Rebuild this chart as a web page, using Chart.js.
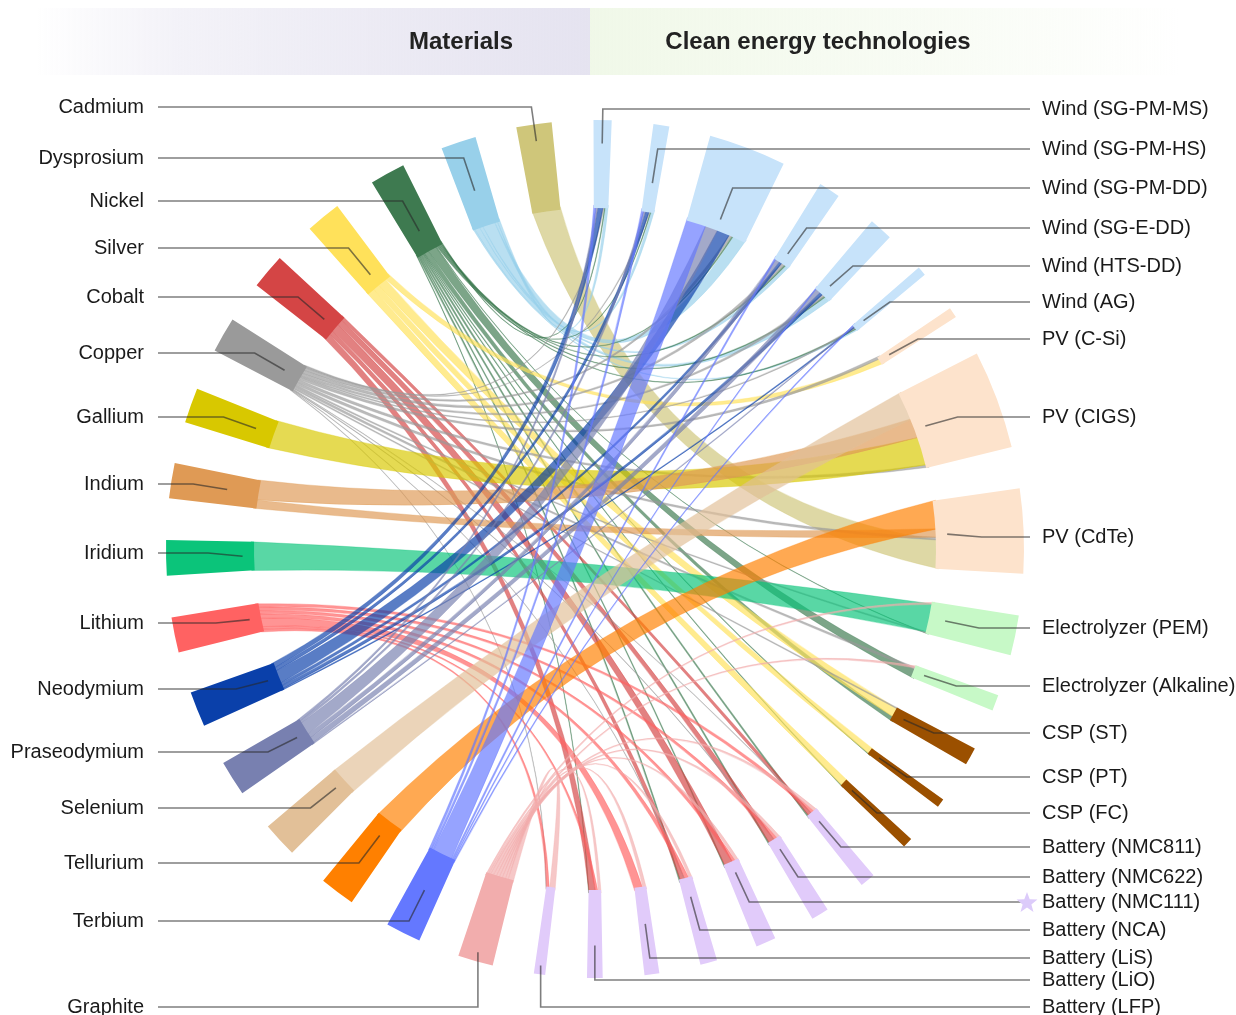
<!DOCTYPE html>
<html>
<head>
<meta charset="utf-8">
<script src="https://cdn.jsdelivr.net/npm/chart.js@4.4.1/dist/chart.umd.min.js"></script>
<style>
  html, body { margin: 0; padding: 0; background: #fff; }
  canvas { display: block; }
</style>
</head>
<body>
<canvas id="chord" width="1236" height="1015"></canvas>
<script>
// materials (left half) and technologies (right half)
const materials = ['Cadmium', 'Dysprosium', 'Nickel', 'Silver', 'Cobalt', 'Copper', 'Gallium', 'Indium',
  'Iridium', 'Lithium', 'Neodymium', 'Praseodymium', 'Selenium', 'Tellurium', 'Terbium', 'Graphite']
const technologies = ['Wind (SG-PM-MS)', 'Wind (SG-PM-HS)', 'Wind (SG-PM-DD)', 'Wind (SG-E-DD)', 'Wind (HTS-DD)',
  'Wind (AG)', 'PV (C-Si)', 'PV (CIGS)', 'PV (CdTe)', 'Electrolyzer (PEM)', 'Electrolyzer (Alkaline)',
  'CSP (ST)', 'CSP (PT)', 'CSP (FC)', 'Battery (NMC811)', 'Battery (NMC622)', 'Battery (NMC111)',
  'Battery (NCA)', 'Battery (LiS)', 'Battery (LiO)', 'Battery (LFP)']

// share of each material going to each technology (same order as technologies)
//                 MS   HS   DD   EDD  HTS  AG   CSi  CIGS CdTe PEM  Alk  ST   PT   FC   811  622  111  NCA  LiS  LiO  LFP
const cadmium     = [0,   0,   0,   0,   0,   0,   0,   0,   1,   0,   0,   0,   0,   0,   0,   0,   0,   0,   0,   0,   0]
const dysprosium  = [.10, .10, .45, .12, .18, .05, 0,   0,   0,   0,   0,   0,   0,   0,   0,   0,   0,   0,   0,   0,   0]
const nickel      = [.03, .03, .05, .05, .05, .04, 0,   0,   0,   .02, .30, .15, .03, .03, .06, .05, .04, .05, 0,   .02, 0]
const silver      = [0,   0,   0,   0,   0,   0,   .20, 0,   0,   0,   0,   .32, .22, .26, 0,   0,   0,   0,   0,   0,   0]
const cobalt      = [0,   0,   0,   0,   0,   0,   0,   0,   0,   0,   0,   0,   0,   0,   .12, .20, .30, .15, 0,   .23, 0]
const copper      = [.04, .04, .10, .12, .10, .05, .10, .10, .10, .05, .08, .04, 0,   0,   .02, .02, 0,   .02, 0,   0,   .02]
const gallium     = [0,   0,   0,   0,   0,   0,   0,   1,   0,   0,   0,   0,   0,   0,   0,   0,   0,   0,   0,   0,   0]
const indium      = [0,   0,   0,   0,   0,   0,   0,   .70, .30, 0,   0,   0,   0,   0,   0,   0,   0,   0,   0,   0,   0]
const iridium     = [0,   0,   0,   0,   0,   0,   0,   0,   0,   1,   0,   0,   0,   0,   0,   0,   0,   0,   0,   0,   0]
const lithium     = [0,   0,   0,   0,   0,   0,   0,   0,   0,   0,   0,   0,   0,   0,   .12, .12, .12, .15, .30, .09, .10]
const neodymium   = [.18, .12, .45, .10, .11, .04, 0,   0,   0,   0,   0,   0,   0,   0,   0,   0,   0,   0,   0,   0,   0]
const praseodymium= [.08, .08, .45, .16, .19, .04, 0,   0,   0,   0,   0,   0,   0,   0,   0,   0,   0,   0,   0,   0,   0]
const selenium    = [0,   0,   0,   0,   0,   0,   0,   1,   0,   0,   0,   0,   0,   0,   0,   0,   0,   0,   0,   0,   0]
const tellurium   = [0,   0,   0,   0,   0,   0,   0,   0,   1,   0,   0,   0,   0,   0,   0,   0,   0,   0,   0,   0,   0]
const terbium     = [.08, .08, .70, .06, .04, .04, 0,   0,   0,   0,   0,   0,   0,   0,   0,   0,   0,   0,   0,   0,   0]
const graphite    = [0,   0,   0,   0,   0,   0,   0,   0,   0,   .07, .07, 0,   0,   0,   .11, .11, .11, .11, .12, .10, .20]

const shares = [cadmium, dysprosium, nickel, silver, cobalt, copper, gallium, indium, iridium,
  lithium, neodymium, praseodymium, selenium, tellurium, terbium, graphite]

const materialColors = ['#cfc67a', '#98d0ea', '#3e7a50', '#ffe15a', '#d44545', '#9a9a9a', '#d8c800', '#df9a55',
  '#0bc47a', '#ff6262', '#0a40aa', '#7880b0', '#e2c098', '#ff8000', '#6478ff', '#f2adad']
const techColors = ['#c7e3fa', '#c7e3fa', '#c7e3fa', '#c7e3fa', '#c7e3fa', '#c7e3fa', '#fde3cc', '#fde3cc', '#fde3cc',
  '#c7f9c7', '#c7f9c7', '#9b5000', '#9b5000', '#9b5000', '#e1cbfa', '#e1cbfa', '#e1cbfa', '#e1cbfa', '#e1cbfa',
  '#e1cbfa', '#e1cbfa']

// label text heights (layout only)
const leftLabelY = [107, 158, 201, 248, 297, 353, 417, 484, 553, 623, 689, 752, 808, 863, 921, 1007]
const rightLabelY = [109, 149, 188, 228, 266, 302, 339, 417, 537, 628, 686, 733, 777, 813, 847, 877, 902, 930, 958, 980, 1007]

const START = -0.2, GAP = 5.6, R_IN = 341, R_OUT = 429, BEND = 0.3
const FONT = '"Liberation Sans", Arial, sans-serif'

function hexA(hex, a) {
  const n = parseInt(hex.slice(1), 16)
  return `rgba(${n >> 16},${(n >> 8) & 255},${n & 255},${a})`
}

// chord layout: technologies clockwise from the top, then materials from the bottom up
const techTotals = technologies.map((t, j) => shares.reduce((s, row) => s + row[j], 0))
const matTotals = shares.map(row => row.reduce((s, v) => s + v, 0))
const totalUnits = techTotals.reduce((a, b) => a + b, 0) + matTotals.reduce((a, b) => a + b, 0)
const nNodes = technologies.length + materials.length
const unit = (360 - GAP * nNodes) / totalUnits

const techNodes = [], matNodes = []
let ang = START
techTotals.forEach((v, j) => { techNodes[j] = { start: ang, end: ang + v * unit }; ang += v * unit + GAP })
for (let i = materials.length - 1; i >= 0; i--) {
  matNodes[i] = { start: ang, end: ang + matTotals[i] * unit }
  ang += matTotals[i] * unit + GAP
}

// slot of every link on both of its ends
const links = []
matNodes.forEach((node, i) => {
  let c = node.start
  for (let j = technologies.length - 1; j >= 0; j--) {
    const v = shares[i][j]
    if (!v) continue
    links.push({ i, j, v, s1: c, s2: c + v * unit })
    c += v * unit
  }
})
techNodes.forEach((node, j) => {
  let c = node.start
  for (let i = materials.length - 1; i >= 0; i--) {
    const l = links.find(k => k.i == i && k.j == j)
    if (!l) continue
    l.t1 = c
    l.t2 = c + l.v * unit
    c += l.v * unit
  }
})

const chordPlugin = {
  id: 'chord',
  afterDatasetsDraw(chart) {
    const ctx = chart.ctx, xs = chart.scales.x, ys = chart.scales.y
    const cx = xs.getPixelForValue(0), cy = ys.getPixelForValue(0)
    const rad = r => xs.getPixelForValue(r) - cx
    const pt = (r, deg) => {
      const a = deg * Math.PI / 180
      return [xs.getPixelForValue(r * Math.sin(a)), ys.getPixelForValue(r * Math.cos(a))]
    }
    const ca = deg => (deg - 90) * Math.PI / 180
    const ctrl = (p, q) => [cx + BEND * ((p[0] + q[0]) / 2 - cx), cy + BEND * ((p[1] + q[1]) / 2 - cy)]

    ctx.save()

    // header
    let g = ctx.createLinearGradient(35, 0, 590, 0)
    g.addColorStop(0, 'rgba(229,227,240,0)')
    g.addColorStop(0.25, 'rgba(229,227,240,0.45)')
    g.addColorStop(1, 'rgba(229,227,240,1)')
    ctx.fillStyle = g
    ctx.fillRect(35, 8, 555, 67)
    g = ctx.createLinearGradient(590, 0, 1180, 0)
    g.addColorStop(0, 'rgba(240,248,232,1)')
    g.addColorStop(0.6, 'rgba(244,250,238,0.6)')
    g.addColorStop(1, 'rgba(244,250,238,0)')
    ctx.fillStyle = g
    ctx.fillRect(590, 8, 590, 67)
    ctx.fillStyle = '#222'
    ctx.font = 'bold 24px ' + FONT
    ctx.textAlign = 'center'
    ctx.textBaseline = 'middle'
    ctx.fillText('Materials', 461, 42)
    ctx.fillText('Clean energy technologies', 818, 42)

    // ribbons
    const rr = R_IN + 3
    links.forEach(l => {
      const A = pt(rr, l.s1), B = pt(rr, l.s2), C = pt(rr, l.t1), D = pt(rr, l.t2)
      const c1 = ctrl(B, C), c2 = ctrl(D, A)
      ctx.beginPath()
      ctx.moveTo(A[0], A[1])
      ctx.arc(cx, cy, rad(rr), ca(l.s1), ca(l.s2))
      ctx.quadraticCurveTo(c1[0], c1[1], C[0], C[1])
      ctx.arc(cx, cy, rad(rr), ca(l.t1), ca(l.t2))
      ctx.quadraticCurveTo(c2[0], c2[1], A[0], A[1])
      ctx.closePath()
      ctx.fillStyle = hexA(materialColors[l.i], 0.68)
      ctx.fill()
      ctx.strokeStyle = hexA(materialColors[l.i], 0.5)
      ctx.lineWidth = 0.6
      ctx.stroke()
    })

    // nodes
    const sector = (n, color) => {
      ctx.beginPath()
      ctx.arc(cx, cy, rad(R_OUT), ca(n.start), ca(n.end))
      ctx.arc(cx, cy, rad(R_IN), ca(n.end), ca(n.start), true)
      ctx.closePath()
      ctx.fillStyle = color
      ctx.fill()
    }
    matNodes.forEach((n, i) => sector(n, materialColors[i]))
    techNodes.forEach((n, j) => sector(n, techColors[j]))

    // leader lines and labels
    const leader = (n, ly, lineX) => {
      const a = (n.start + n.end) / 2
      const cosA = Math.cos(a * Math.PI / 180)
      const ry = cosA != 0 ? (cy - ly) / cosA : -1
      let bend, end
      if (ry >= 387 && ry <= 450) {
        bend = pt(ry, a); end = pt(ry - 34.5, a)
      } else if (ry > 450) {
        end = pt(420, a); bend = [end[0], ly]
      } else {
        end = pt(352.5, a); bend = [pt(387, a)[0], ly]
      }
      ctx.beginPath()
      ctx.moveTo(lineX, ly)
      ctx.lineTo(bend[0], bend[1])
      ctx.lineTo(end[0], end[1])
      ctx.stroke()
    }
    ctx.strokeStyle = 'rgba(40,40,40,0.6)'
    ctx.lineWidth = 1.6
    ctx.font = '20px ' + FONT
    ctx.fillStyle = '#1a1a1a'
    ctx.textBaseline = 'middle'
    matNodes.forEach((n, i) => leader(n, leftLabelY[i], 158))
    techNodes.forEach((n, j) => leader(n, rightLabelY[j], 1030))
    ctx.textAlign = 'right'
    materials.forEach((m, i) => ctx.fillText(m, 144, leftLabelY[i]))
    ctx.textAlign = 'left'
    technologies.forEach((t, j) => ctx.fillText(t, 1042, rightLabelY[j]))

    // star marker beside Battery (NMC111)
    const sy = rightLabelY[16]
    ctx.beginPath()
    for (let k = 0; k < 10; k++) {
      const r = k % 2 ? 4.6 : 11, a = Math.PI / 5 * k - Math.PI / 2
      const x = 1027 + r * Math.cos(a), y = sy + 1 + r * Math.sin(a)
      k ? ctx.lineTo(x, y) : ctx.moveTo(x, y)
    }
    ctx.closePath()
    ctx.fillStyle = '#dccbfa'
    ctx.fill()

    ctx.restore()
  }
}

const chart = new Chart(document.getElementById('chord'), {
  type: 'scatter',
  data: { datasets: [] },
  options: {
    responsive: false,
    animation: false,
    devicePixelRatio: 1,
    layout: { padding: 0 },
    plugins: { legend: { display: false }, tooltip: { enabled: false } },
    scales: {
      x: { type: 'linear', display: false, min: -595, max: 641 },
      y: { type: 'linear', display: false, min: -466, max: 549 }
    }
  },
  plugins: [chordPlugin]
})
</script>
</body>
</html>
